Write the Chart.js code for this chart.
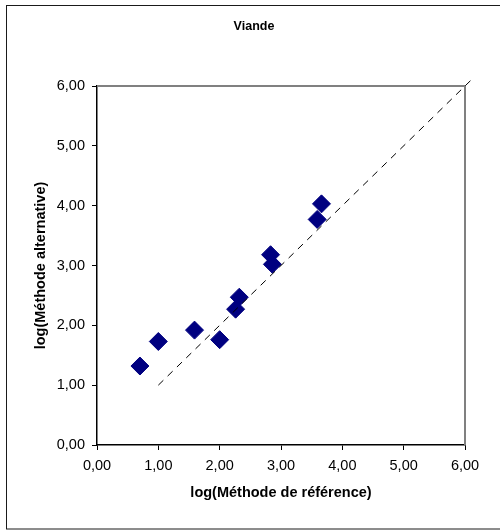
<!DOCTYPE html>
<html>
<head>
<meta charset="utf-8">
<script src="https://cdn.jsdelivr.net/npm/chart.js@4/dist/chart.umd.min.js"></script>
<style>
    body { margin: 0; background: #fff; }
    canvas { display: block; }
</style>
</head>
<body>
<canvas id="chart" width="500" height="532"></canvas>
<script>
// values
const refLog = [0.70, 1.00, 1.59, 2.00, 2.26, 2.32, 2.83, 2.86, 3.59, 3.66];
const altLog = [1.32, 1.73, 1.92, 1.76, 2.27, 2.47, 3.18, 3.02, 3.77, 4.03];
const diagX = [1, 6.1];
const diagY = [1, 6.1];
const axisMin = 0;
const axisMax = 6;

const chartTitle = 'Viande';
const xTitle = 'log(Méthode de référence)';
const yTitle = 'log(Méthode alternative)';

const fontFamily = '"Liberation Sans", Arial, sans-serif';
const fmt = v => v.toFixed(2).replace('.', ',');

// outer box, plot frame and chart title
const decor = {
    id: 'decor',
    beforeDraw(chart) {
        const ctx = chart.ctx;
        ctx.save();
        ctx.strokeStyle = '#1a1a1a';
        ctx.lineWidth = 1;
        ctx.strokeRect(6.5, 5.5, 520, 523.5);
        ctx.restore();
    },
    beforeDatasetsDraw(chart) {
        const { ctx, chartArea: a } = chart;
        ctx.save();
        ctx.strokeStyle = '#808080';
        ctx.lineWidth = 2;
        ctx.beginPath();
        ctx.moveTo(a.left, a.top);
        ctx.lineTo(a.right, a.top);
        ctx.lineTo(a.right, a.bottom);
        ctx.stroke();
        ctx.restore();
    },
    afterDraw(chart) {
        const ctx = chart.ctx;
        ctx.save();
        ctx.fillStyle = '#000';
        ctx.font = 'bold 12.5px ' + fontFamily;
        ctx.textAlign = 'center';
        ctx.textBaseline = 'middle';
        ctx.fillText(chartTitle, 254, 27);
        ctx.restore();
    }
};

const axisCommon = {
    type: 'linear',
    min: axisMin,
    max: axisMax,
    grid: { drawOnChartArea: false, drawTicks: true, tickLength: 5, color: '#000' },
    border: { display: true, color: '#000', width: 1.5 },
    ticks: {
        stepSize: 1,
        color: '#000',
        font: { family: fontFamily, size: 14.5 },
        callback: v => fmt(v)
    }
};

new Chart(document.getElementById('chart').getContext('2d'), {
    type: 'scatter',
    data: {
        datasets: [
            {
                label: 'y = x',
                data: diagX.map((x, i) => ({ x: x, y: diagY[i] })),
                showLine: true,
                borderColor: '#000',
                borderWidth: 1,
                borderDash: [7, 6],
                pointRadius: 0,
                clip: false
            },
            {
                label: chartTitle,
                data: refLog.map((x, i) => ({ x: x, y: altLog[i] })),
                pointStyle: 'rectRot',
                pointRadius: 9,
                backgroundColor: '#000080',
                borderColor: '#000080',
                borderWidth: 1
            }
        ]
    },
    options: {
        responsive: false,
        animation: false,
        layout: { padding: { left: 0, top: 86, right: 35, bottom: 0 } },
        plugins: {
            legend: { display: false },
            tooltip: { enabled: false }
        },
        scales: {
            x: {
                ...axisCommon,
                position: 'bottom',
                ticks: { ...axisCommon.ticks, padding: 7, maxRotation: 0 },
                title: {
                    display: true,
                    text: xTitle,
                    color: '#000',
                    font: { family: fontFamily, size: 14.5, weight: 'bold' },
                    padding: { top: 0, bottom: 30 }
                },
                afterFit: s => { s.height = 87; }
            },
            y: {
                ...axisCommon,
                position: 'left',
                ticks: { ...axisCommon.ticks, padding: 7 },
                title: {
                    display: true,
                    text: yTitle,
                    color: '#000',
                    font: { family: fontFamily, size: 14.5, weight: 'bold' },
                    padding: { top: 32, bottom: 0 }
                },
                afterFit: s => { s.width = 97; }
            }
        }
    },
    plugins: [decor]
});
</script>
</body>
</html>
